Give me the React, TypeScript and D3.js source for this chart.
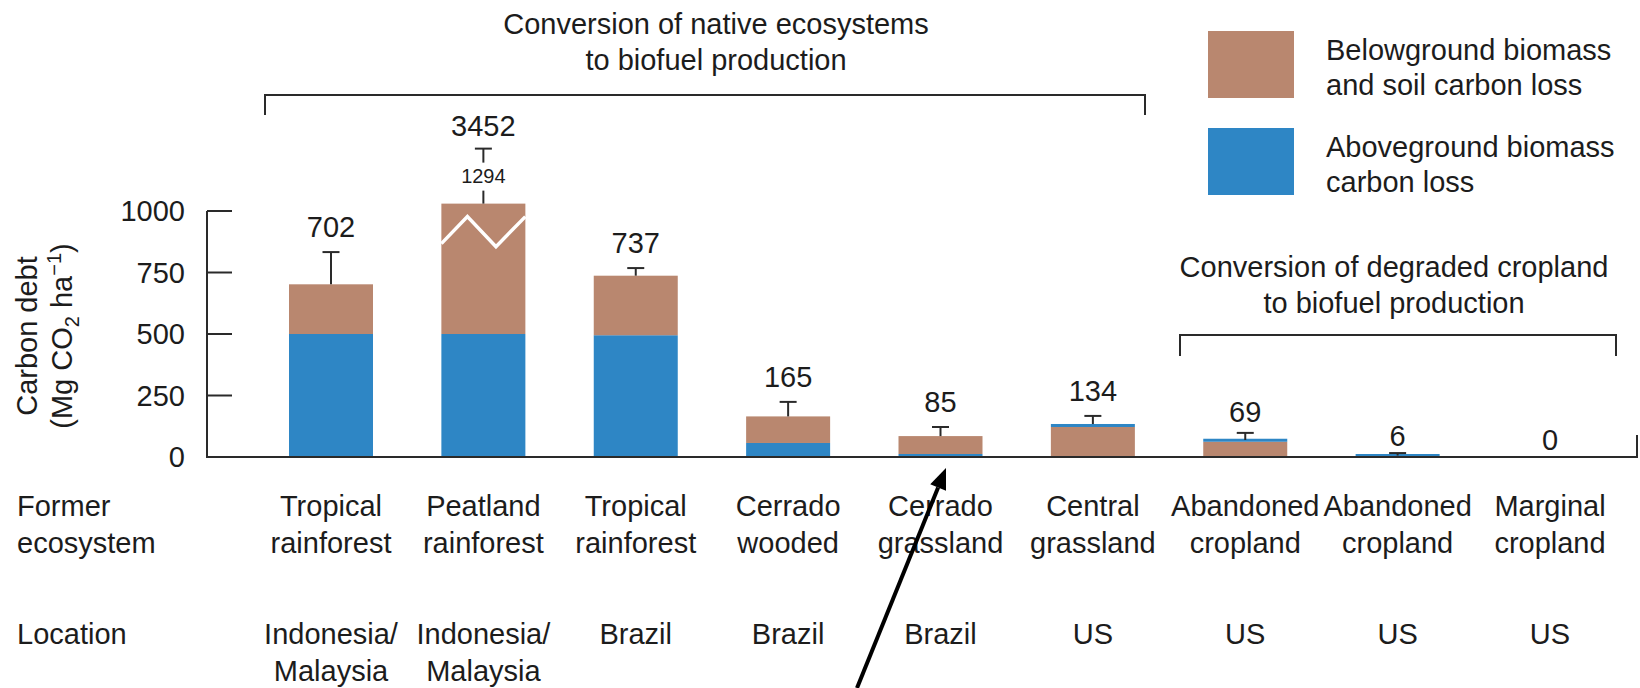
import React from 'react';
import * as d3 from 'd3';

// Former ecosystem and location for each conversion scenario
const ecosystems: string[][] = [
  ['Tropical', 'rainforest'],
  ['Peatland', 'rainforest'],
  ['Tropical', 'rainforest'],
  ['Cerrado', 'wooded'],
  ['Cerrado', 'grassland'],
  ['Central', 'grassland'],
  ['Abandoned', 'cropland'],
  ['Abandoned', 'cropland'],
  ['Marginal', 'cropland'],
];
const locations: string[][] = [
  ['Indonesia/', 'Malaysia'],
  ['Indonesia/', 'Malaysia'],
  ['Brazil'],
  ['Brazil'],
  ['Brazil'],
  ['US'],
  ['US'],
  ['US'],
  ['US'],
];

// Carbon debt components (Mg CO2 per ha)
const aboveground = [500, 500, 495, 57, 12, 12, 7, 6, 0];
const belowground = [202, 2952, 242, 108, 73, 122, 62, 0, 0];
// Upper error for each bar
const errors = [131, 1294, 31, 59, 37, 33, 29, 10, 0];
// Stack the aboveground part on top instead of at the base
const aboveOnTop = [false, false, false, false, false, true, true, false, false];

const yTicks = [0, 250, 500, 750, 1000];

const legendItems = [
  { key: 'below', lines: ['Belowground biomass', 'and soil carbon loss'] },
  { key: 'above', lines: ['Aboveground biomass', 'carbon loss'] },
];

const BROWN = '#B9876F';
const BLUE = '#2E86C5';
const INK = '#1c1c1c';
const LINE = '#2a2a2a';
const FONT = '"Liberation Sans", Arial, Helvetica, sans-serif';
const FS = 29;

const W = 1640;
const H = 688;
const AXIS_X = 207;
const AXIS_END = 1638;
const BAR_W = 84;
const MIN_SEG_PX = 3; // thin non-zero segments stay visible
const BREAK_AT = 1030; // bars taller than this are drawn with an axis break

export default function App() {
  const keys = ecosystems.map((_, i) => String(i));
  const x = d3.scalePoint<string>().domain(keys).range([331, 1550]);
  const y = d3.scaleLinear().domain([0, 1000]).range([457, 211]);
  const fmt = d3.format('d');

  const bars = keys.map((k, i) => {
    const total = aboveground[i] + belowground[i];
    const cx = x(k) as number;
    const shown = Math.min(total, BREAK_AT);
    const broken = total > BREAK_AT;
    // segments bottom to top
    const parts = aboveOnTop[i]
      ? [
          { v: belowground[i], c: BROWN },
          { v: aboveground[i], c: BLUE },
        ]
      : [
          { v: aboveground[i], c: BLUE },
          { v: belowground[i], c: BROWN },
        ];
    let acc = 0;
    const rects = parts.map((p) => {
      const y0 = Math.min(acc, shown);
      const y1 = Math.min(acc + p.v, shown);
      acc += p.v;
      return { y0, y1, c: p.c };
    });
    return { i, k, cx, total, shown, broken, rects };
  });

  const arrowTail = [857, 688];
  const arrowTip = [946, 468];
  const adx = arrowTip[0] - arrowTail[0];
  const ady = arrowTip[1] - arrowTail[1];
  const alen = Math.hypot(adx, ady);
  const ux = adx / alen;
  const uy = ady / alen;
  const headL = 21;
  const headW = 8.5;
  const bx = arrowTip[0] - ux * headL;
  const by = arrowTip[1] - uy * headL;
  const head = [
    [arrowTip[0], arrowTip[1]],
    [bx - uy * headW, by + ux * headW],
    [bx + uy * headW, by - ux * headW],
  ];

  return (
    <svg
      width={W}
      height={H}
      style={{ position: 'absolute', left: 0, top: 0, background: '#fff' }}
      fontFamily={FONT}
      fontSize={FS}
      fill={INK}
    >
      {/* group headings and brackets */}
      <text x={716} y={34} textAnchor="middle">Conversion of native ecosystems</text>
      <text x={716} y={70} textAnchor="middle">to biofuel production</text>
      <path d="M265,115 V95 H1145 V115" fill="none" stroke={LINE} strokeWidth={2} />

      <text x={1394} y={277} textAnchor="middle">Conversion of degraded cropland</text>
      <text x={1394} y={313} textAnchor="middle">to biofuel production</text>
      <path d="M1180,356 V335 H1616 V356" fill="none" stroke={LINE} strokeWidth={2} />

      {/* legend */}
      {legendItems.map((it, j) => (
        <g key={it.key}>
          <rect
            x={1208}
            y={31 + j * 97}
            width={86}
            height={67}
            fill={it.key === 'below' ? BROWN : BLUE}
          />
          {it.lines.map((ln, m) => (
            <text key={m} x={1326} y={60 + j * 97 + m * 35}>
              {ln}
            </text>
          ))}
        </g>
      ))}

      {/* y axis title */}
      <text transform="translate(37,336) rotate(-90)" textAnchor="middle">Carbon debt</text>
      <text transform="translate(72,336) rotate(-90)" textAnchor="middle">
        (Mg CO
        <tspan fontSize={20} dy={7}>2</tspan>
        <tspan dy={-7}> ha</tspan>
        <tspan fontSize={20} dy={-11}>−1</tspan>
        <tspan dy={11}>)</tspan>
      </text>

      {/* bars */}
      {bars.map((b) => {
        let floor = y(0);
        return b.rects.map((r, m) => {
          if (r.y1 <= r.y0) return null;
          const top = Math.min(y(r.y1), floor - MIN_SEG_PX);
          const el = (
            <rect
              key={`${b.k}-${m}`}
              x={b.cx - BAR_W / 2}
              y={top}
              width={BAR_W}
              height={floor - top}
              fill={r.c}
            />
          );
          floor = top;
          return el;
        });
      })}

      {/* axis break on the truncated bar */}
      {bars
        .filter((b) => b.broken)
        .map((b) => {
          const top = y(b.shown);
          const x0 = b.cx - BAR_W / 2;
          const pts: [number, number][] = [
            [x0, top + 40],
            [x0 + BAR_W * 0.31, top + 13],
            [x0 + BAR_W * 0.65, top + 43],
            [x0 + BAR_W, top + 13],
          ];
          return (
            <path
              key={`brk-${b.k}`}
              d={d3.line()(pts) || ''}
              fill="none"
              stroke="#fff"
              strokeWidth={3.5}
            />
          );
        })}

      {/* error bars and value labels */}
      {bars.map((b) => {
        const cap = 8.5;
        if (b.broken) {
          const top = y(b.shown);
          const capY = top - 55;
          return (
            <g key={`err-${b.k}`}>
              <line x1={b.cx} x2={b.cx} y1={top} y2={top - 13} stroke={LINE} strokeWidth={2} />
              <text x={b.cx} y={top - 21} textAnchor="middle" fontSize={20}>
                {fmt(errors[b.i])}
              </text>
              <line x1={b.cx} x2={b.cx} y1={top - 41} y2={capY} stroke={LINE} strokeWidth={2} />
              <line x1={b.cx - cap} x2={b.cx + cap} y1={capY} y2={capY} stroke={LINE} strokeWidth={2} />
              <text x={b.cx} y={capY - 13} textAnchor="middle">
                {fmt(b.total)}
              </text>
            </g>
          );
        }
        const yTop = y(b.total);
        const yErr = y(b.total + errors[b.i]);
        const gap = b.total < 10 ? 7 : b.total < 80 ? 11 : 15;
        return (
          <g key={`err-${b.k}`}>
            {errors[b.i] > 0 && (
              <>
                <line x1={b.cx} x2={b.cx} y1={yTop} y2={yErr} stroke={LINE} strokeWidth={2} />
                <line x1={b.cx - cap} x2={b.cx + cap} y1={yErr} y2={yErr} stroke={LINE} strokeWidth={2} />
              </>
            )}
            <text x={b.cx} y={yErr - gap} textAnchor="middle">
              {fmt(b.total)}
            </text>
          </g>
        );
      })}

      {/* y axis */}
      <line x1={AXIS_X} x2={AXIS_X} y1={y(1000)} y2={y(0)} stroke={LINE} strokeWidth={2} />
      {yTicks.map((t) => (
        <g key={t}>
          <line x1={AXIS_X} x2={AXIS_X + 25} y1={y(t)} y2={y(t)} stroke={LINE} strokeWidth={2} />
          <text x={185} y={y(t)} dy="0.36em" textAnchor="end">
            {t}
          </text>
        </g>
      ))}
      {/* baseline */}
      <line x1={AXIS_X - 1} x2={AXIS_END} y1={y(0)} y2={y(0)} stroke={LINE} strokeWidth={2} />
      <line x1={AXIS_END - 1} x2={AXIS_END - 1} y1={y(0)} y2={y(0) - 22} stroke={LINE} strokeWidth={2} />

      {/* category rows */}
      <text x={17} y={516}>Former</text>
      <text x={17} y={553}>ecosystem</text>
      <text x={17} y={644}>Location</text>
      {bars.map((b) => (
        <g key={`cat-${b.k}`}>
          {ecosystems[b.i].map((ln, m) => (
            <text key={m} x={b.cx} y={516 + m * 37} textAnchor="middle">
              {ln}
            </text>
          ))}
          {locations[b.i].map((ln, m) => (
            <text key={m} x={b.cx} y={644 + m * 37} textAnchor="middle">
              {ln}
            </text>
          ))}
        </g>
      ))}

      {/* pointer arrow */}
      <line
        x1={arrowTail[0]}
        y1={arrowTail[1]}
        x2={bx}
        y2={by}
        stroke="#000"
        strokeWidth={4}
      />
      <polygon points={head.map((p) => p.join(',')).join(' ')} fill="#000" />
    </svg>
  );
}
